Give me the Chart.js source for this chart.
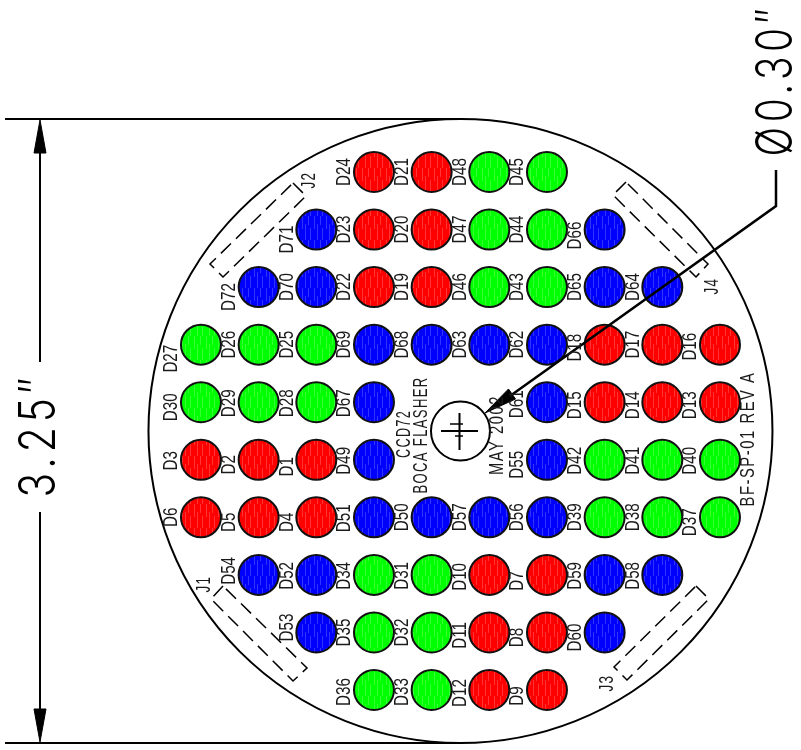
<!DOCTYPE html>
<html>
<head>
<meta charset="utf-8">
<title>CCD72 Boca flasher</title>
<script src="https://cdn.jsdelivr.net/npm/chart.js@4/dist/chart.umd.min.js"></script>
<style>
  html, body { margin: 0; padding: 0; background: #fff; }
  canvas { display: block; }
</style>
</head>
<body>
<canvas id="grafico" width="801" height="750"></canvas>
<script>
// LEDs by colour, position given as column / row of the 0.30" grid
const redNames = ['D24','D21','D23','D20','D22','D19','D18','D17','D16','D15','D14','D13','D3','D2','D1','D6','D5','D4','D10','D7','D11','D8','D12','D9'];
const redCols = [4,5,4,5,4,5,8,9,10,8,9,10,1,2,3,1,2,3,6,7,6,7,6,7];
const redRows = [1,1,2,2,3,3,4,4,4,5,5,5,6,6,6,7,7,7,8,8,9,9,10,10];

const greenNames = ['D48','D45','D47','D44','D46','D43','D27','D26','D25','D30','D29','D28','D42','D41','D40','D39','D38','D37','D34','D31','D35','D32','D36','D33'];
const greenCols = [6,7,6,7,6,7,1,2,3,1,2,3,8,9,10,8,9,10,4,5,4,5,4,5];
const greenRows = [1,1,2,2,3,3,4,4,4,5,5,5,6,6,6,7,7,7,8,8,9,9,10,10];

const blueNames = ['D71','D66','D72','D70','D65','D64','D69','D68','D63','D62','D67','D61','D49','D55','D51','D50','D57','D56','D54','D52','D59','D58','D53','D60'];
const blueCols = [3,8,2,3,8,9,4,5,6,7,4,7,4,7,4,5,6,7,2,3,8,9,3,8];
const blueRows = [2,2,3,3,3,3,4,4,4,4,5,5,6,6,7,7,7,7,8,8,8,8,9,9];

// board outline and centre hole sit in the middle of the grid
const centreCol = [5.5];
const centreRow = [5.5];

// labels that are not centred on their LED
const labelShift = {
  D71:10, D66:6, D72:10, D27:14, D30:5, D29:1, D28:1, D67:1, D18:3, D16:2, D61:2, D15:3, D14:3, D13:3,
  D3:1, D2:5, D1:7, D49:1, D55:5, D42:1, D41:1, D40:1, D5:5, D4:5, D51:1, D37:5,
  D54:-4, D52:1, D34:1, D31:1, D10:2, D7:6, D59:1, D58:1,
  D53:-5, D11:3, D8:5, D60:5, D36:2, D33:2, D12:3, D9:6
};

// drawing notes
const noteTexts = ['J1','J2','J3','J4','CCD72','BOCA FLASHER','MAY 2002','BF-SP-01 REV A'];
const noteX = [205,310,608,713,405,422,498,749];
const noteY = [584,180,683,286,434,435,435,439];
const noteLen = [17,17,17,17,48,117,80,135];

const dimTexts = ['3.25″','Ø0.30″'];
const dimX = [40,777];
const dimY = [435,80];
const dimLen = [125,153];

// dimension lines, in page units
const extTopX = [5,462], extTopY = [119,119];
const extBottomX = [5,462], extBottomY = [743,743];
const dimUpperX = [40,40], dimUpperY = [150,362];
const dimLowerX = [40,40], dimLowerY = [512,712];
const headTopX = [40,34,46], headTopY = [120,153,153];
const headBottomX = [40,34,46], headBottomY = [742,709,709];
const leaderX = [776,776,510], leaderY = [170,206,396];
const leaderHeadX = [485,515.5,508.5], leaderHeadY = [413,399,389];

// connector outlines
const j1X = [223,211,293,307,223], j1Y = [586,599,681,668,586];
const j2X = [293,306,223,210,293], j2Y = [183,196,277,264,183];
const j3X = [696,709,627,614,696], j3Y = [586,599,680,667,586];
const j4X = [626,613,696,708,626], j4Y = [182,195,277,264,182];

// marks inside the centre hole
const crossHX = [441,478], crossHY = [431,431];
const crossVX = [459.5,459.5], crossVY = [413,450];
const tickAX = [450,463], tickAY = [424,424];
const tickBX = [455,463], tickBY = [436,436];

function pontos(xs, ys) {
  return xs.map((x, i) => ({ x: x, y: ys[i] }));
}

// light vertical streaks seen in the LED fill
function textura(cor) {
  const c = document.createElement('canvas');
  c.width = 12; c.height = 24;
  const g = c.getContext('2d');
  g.fillStyle = cor;
  g.fillRect(0, 0, 12, 24);
  g.fillStyle = 'rgba(255,255,255,0.2)';
  g.fillRect(2, 0, 1, 13);
  g.fillRect(5, 8, 1, 16);
  g.fillRect(8, 0, 1, 9);
  g.fillRect(10, 12, 1, 12);
  return g.createPattern(c, 'repeat');
}

function leds(nome, cols, rows, cor) {
  return {
    label: nome,
    data: pontos(cols, rows),
    showLine: false,
    pointRadius: 20,
    pointBorderWidth: 2,
    pointBorderColor: '#111',
    pointBackgroundColor: textura(cor),
    order: 5
  };
}

function traco(nome, xs, ys, extra) {
  return Object.assign({
    label: nome,
    data: pontos(xs, ys),
    xAxisID: 'px',
    yAxisID: 'py',
    showLine: true,
    pointRadius: 0,
    borderColor: '#000',
    borderWidth: 2,
    tension: 0,
    fill: false,
    clip: false,
    order: 1
  }, extra || {});
}

function seta(nome, xs, ys) {
  return traco(nome, xs.concat(xs[0]), ys.concat(ys[0]), { fill: 'shape', backgroundColor: '#000', borderWidth: 1, order: 0 });
}

function circulo(nome, raio) {
  return {
    label: nome,
    data: pontos(centreCol, centreRow),
    showLine: false,
    clip: false,
    pointRadius: raio,
    pointBorderWidth: 2,
    pointBorderColor: '#000',
    pointBackgroundColor: 'rgba(0,0,0,0)',
    order: 6
  };
}

function textoVertical(ctx, txt, x, y, fonte, escala) {
  ctx.save();
  ctx.translate(x, y);
  ctx.rotate(-Math.PI / 2);
  ctx.font = fonte;
  ctx.scale(escala, 1);
  ctx.fillText(txt, 0, 0);
  ctx.restore();
}

const textos = {
  id: 'textos',
  afterDatasetsDraw(chart) {
    const ctx = chart.ctx, sx = chart.scales.x, sy = chart.scales.y;
    ctx.save();
    ctx.fillStyle = '#1a1a1a';
    ctx.textAlign = 'center';
    ctx.textBaseline = 'middle';
    const fonteLed = '19.5px "Liberation Sans"';
    [[redNames, redCols, redRows], [greenNames, greenCols, greenRows], [blueNames, blueCols, blueRows]].forEach(g => {
      g[0].forEach((n, i) => {
        const x = sx.getPixelForValue(g[1][i]) - 29;
        const y = sy.getPixelForValue(g[2][i]) + (labelShift[n] || 0);
        textoVertical(ctx, n, x, y, fonteLed, 0.78);
      });
    });
    ctx.letterSpacing = '2px';
    noteTexts.forEach((t, i) => {
      ctx.font = fonteLed;
      textoVertical(ctx, t, noteX[i], noteY[i], fonteLed, noteLen[i] / ctx.measureText(t).width);
    });
    ctx.fillStyle = '#000';
    ctx.letterSpacing = '6px';
    const fonteDim = '300 50px Inter';
    dimTexts.forEach((t, i) => {
      ctx.font = fonteDim;
      textoVertical(ctx, t, dimX[i], dimY[i], fonteDim, dimLen[i] / ctx.measureText(t).width);
    });
    ctx.restore();
  }
};

new Chart(document.getElementById('grafico'), {
  type: 'scatter',
  data: {
    datasets: [
      circulo('Board', 312),
      circulo('Hole', 29.5),
      leds('Red', redCols, redRows, '#ff0000'),
      leds('Green', greenCols, greenRows, '#00ff00'),
      leds('Blue', blueCols, blueRows, '#0000ff'),
      traco('Ext top', extTopX, extTopY),
      traco('Ext bottom', extBottomX, extBottomY),
      traco('Dim upper', dimUpperX, dimUpperY),
      traco('Dim lower', dimLowerX, dimLowerY),
      seta('Head top', headTopX, headTopY),
      seta('Head bottom', headBottomX, headBottomY),
      traco('Leader', leaderX, leaderY, { borderWidth: 2.5 }),
      seta('Leader head', leaderHeadX, leaderHeadY),
      traco('J1', j1X, j1Y, { borderWidth: 1.5, borderDash: [14, 7] }),
      traco('J2', j2X, j2Y, { borderWidth: 1.5, borderDash: [14, 7] }),
      traco('J3', j3X, j3Y, { borderWidth: 1.5, borderDash: [14, 7] }),
      traco('J4', j4X, j4Y, { borderWidth: 1.5, borderDash: [14, 7] }),
      traco('Cross H', crossHX, crossHY),
      traco('Cross V', crossVX, crossVY),
      traco('Tick A', tickAX, tickAY, { borderWidth: 1.5 }),
      traco('Tick B', tickBX, tickBY, { borderWidth: 1.5 })
    ]
  },
  options: {
    responsive: false,
    devicePixelRatio: 1,
    animation: false,
    events: [],
    layout: { padding: 0, autoPadding: false },
    plugins: { legend: { display: false }, tooltip: { enabled: false } },
    scales: {
      x: { type: 'linear', display: false, min: -2.485, max: 11.405 },
      y: { type: 'linear', display: false, reverse: true, min: -1.988, max: 11.042 },
      px: { type: 'linear', display: false, axis: 'x', min: 0, max: 801 },
      py: { type: 'linear', display: false, axis: 'y', reverse: true, min: 0, max: 750 }
    }
  },
  plugins: [textos]
});
</script>
</body>
</html>
